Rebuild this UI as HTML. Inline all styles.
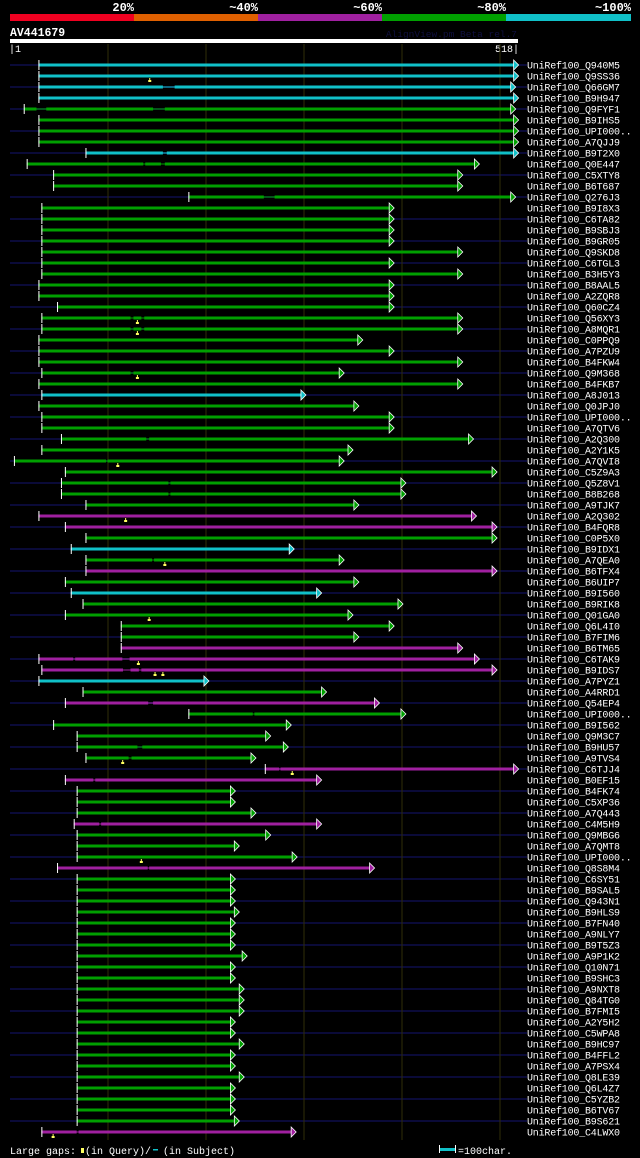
<!DOCTYPE html>
<html><head><meta charset="utf-8">
<style>
html,body{margin:0;padding:0;background:#000;}
svg{display:block;}
text{font-family:"Liberation Mono","DejaVu Sans Mono",monospace;}
</style></head>
<body>
<svg id="chart" width="640" height="1158" viewBox="0 0 640 1158" xmlns="http://www.w3.org/2000/svg">
  <rect x="0" y="0" width="640" height="1158" fill="#000"/>
  <g>
    <rect x="10" y="14" width="124" height="7" fill="#f00020"/>
    <rect x="134" y="14" width="124" height="7" fill="#e06000"/>
    <rect x="258" y="14" width="124" height="7" fill="#a020a0"/>
    <rect x="382" y="14" width="124" height="7" fill="#00a000"/>
    <rect x="506" y="14" width="125" height="7" fill="#10c0c8"/>
    <g font-size="12" font-weight="bold" fill="#fff" text-anchor="end">
      <text x="134" y="11">20%</text>
      <text x="258" y="11">~40%</text>
      <text x="382" y="11">~60%</text>
      <text x="506" y="11">~80%</text>
      <text x="631" y="11">~100%</text>
    </g>
  </g>
  <text x="10" y="36" font-size="11.5" font-weight="bold" fill="#fff">AV441679</text>
  <text x="517" y="37" font-size="9.5" fill="#101040" text-anchor="end">AlignView.pm Beta rel.7</text>
  <rect x="10" y="39" width="508" height="4" fill="#fff"/>
  <text x="9" y="52" font-size="10" fill="#fff">|1</text>
  <text x="519" y="52" font-size="10" fill="#fff" text-anchor="end">518|</text>
  <g id="grid"></g>
  <g id="rows"></g>
  <g>
    <text x="10" y="1154" font-size="10" fill="#fff">Large gaps:</text>
    <rect x="81" y="1148" width="3" height="5" fill="#ffff60"/>
    <text x="85" y="1154" font-size="10" fill="#fff">(in Query)/</text>
    <rect x="153" y="1149" width="5" height="1.5" fill="#10c0c8"/>
    <text x="163" y="1154" font-size="10" fill="#fff">(in Subject)</text>
    <rect x="439" y="1145" width="1" height="8" fill="#fff"/>
    <rect x="440" y="1148" width="15" height="3" fill="#10c0c8"/>
    <rect x="455" y="1145" width="1" height="8" fill="#fff"/>
    <text x="458" y="1154" font-size="10" fill="#fff">=100char.</text>
  </g>
</svg>
<script>
const names = ["UniRef100_Q940M5","UniRef100_Q9SS36","UniRef100_Q66GM7","UniRef100_B9H947","UniRef100_Q9FYF1","UniRef100_B9IHS5","UniRef100_UPI000..","UniRef100_A7QJJ9","UniRef100_B9T2X0","UniRef100_Q0E447",
"UniRef100_C5XTY8","UniRef100_B6T687","UniRef100_Q276J3","UniRef100_B9I8X3","UniRef100_C6TA82","UniRef100_B9SBJ3","UniRef100_B9GR05","UniRef100_Q9SKD8","UniRef100_C6TGL3","UniRef100_B3H5Y3",
"UniRef100_B8AAL5","UniRef100_A2ZQR8","UniRef100_Q60CZ4","UniRef100_Q56XY3","UniRef100_A8MQR1","UniRef100_C0PPQ9","UniRef100_A7PZU9","UniRef100_B4FKW4","UniRef100_Q9M368","UniRef100_B4FKB7",
"UniRef100_A8J013","UniRef100_Q0JPJ0","UniRef100_UPI000..","UniRef100_A7QTV6","UniRef100_A2Q300","UniRef100_A2Y1K5","UniRef100_A7QVI8","UniRef100_C5Z9A3","UniRef100_Q5Z8V1","UniRef100_B8B268",
"UniRef100_A9TJK7","UniRef100_A2Q302","UniRef100_B4FQR8","UniRef100_C0P5X0","UniRef100_B9IDX1","UniRef100_A7QEA0","UniRef100_B6TFX4","UniRef100_B6UIP7","UniRef100_B9I560","UniRef100_B9RIK8",
"UniRef100_Q01GA0","UniRef100_Q6L4I0","UniRef100_B7FIM6","UniRef100_B6TM65","UniRef100_C6TAK9","UniRef100_B9IDS7","UniRef100_A7PYZ1","UniRef100_A4RRD1","UniRef100_Q54EP4","UniRef100_UPI000..",
"UniRef100_B9I562","UniRef100_Q9M3C7","UniRef100_B9HU57","UniRef100_A9TVS4","UniRef100_C6TJJ4","UniRef100_B0EF15","UniRef100_B4FK74","UniRef100_C5XP36","UniRef100_A7Q443","UniRef100_C4M5H9",
"UniRef100_Q9MBG6","UniRef100_A7QMT8","UniRef100_UPI000..","UniRef100_Q8S8M4","UniRef100_C6SY51","UniRef100_B9SAL5","UniRef100_Q943N1","UniRef100_B9HLS9","UniRef100_B7FN40","UniRef100_A9NLY7",
"UniRef100_B9T5Z3","UniRef100_A9P1K2","UniRef100_Q10N71","UniRef100_B9SHC3","UniRef100_A9NXT8","UniRef100_Q84TG0","UniRef100_B7FMI5","UniRef100_A2Y5H2","UniRef100_C5WPA8","UniRef100_B9HC97",
"UniRef100_B4FFL2","UniRef100_A7PSX4","UniRef100_Q8LE39","UniRef100_Q6L4Z7","UniRef100_C5YZB2","UniRef100_B6TV67","UniRef100_B9S621","UniRef100_C4LWX0"];
const starts = [29,29,29,29,14,29,29,29,77,17, 44,44,182,32,32,32,32,32,32,32, 29,29,48,32,32,29,29,29,32,29,
32,29,32,32,52,32,4,56,52,52, 77,29,56,77,62,77,77,56,62,74, 56,113,113,113,29,32,29,74,56,182,
44,68,68,77,260,56,68,68,68,65, 68,68,68,48,68,68,68,68,68,68, 68,68,68,68,68,68,68,68,68,68, 68,68,68,68,68,68,68,32];
const ends = [519,519,516,519,516,519,519,519,519,479, 462,462,516,392,392,392,392,462,392,462, 392,392,392,462,462,360,392,462,341,462,
302,356,392,392,473,350,341,497,404,404, 356,476,497,497,290,341,497,356,318,401, 350,392,356,462,479,497,203,323,377,404,
287,266,284,251,519,318,230,230,251,318, 266,234,293,372,230,230,230,234,230,230, 230,242,230,230,239,239,239,230,230,239, 230,230,239,230,230,230,234,292];
const colors = ["c","c","c","c","g","g","g","g","c","g", "g","g","g","g","g","g","g","g","g","g", "g","g","g","g","g","g","g","g","g","g",
"c","g","g","g","g","g","g","g","g","g", "g","p","p","g","c","g","p","g","c","g", "g","g","g","p","p","p","c","g","p","g",
"g","g","g","g","p","p","g","g","g","p", "g","g","g","p","g","g","g","g","g","g", "g","g","g","g","g","g","g","g","g","g", "g","g","g","g","g","g","g","p"];
const gapRows = [2,4,4,8,9,9,12,23,23,24,24,28,34,36,38,39,45,54,54,55,55,58,59,62,63,64,65,69,73,97];
const gapFrom = [156,27,146,156,136,154,259,123,134,123,134,123,139,98,161.6,161.6,145,64.5,114.6,115.3,131.5,141,247.7,130,121,274.7,85,91,140.5,68];
const gapTo   = [168,37,158,160,138,158,270,126,137,126,137,126,142,99.5,163.7,163.7,147,66.5,122,123,134,146,249.4,135,124,276,87,93,142,70];
const markRows = [1,23,24,28,36,41,45,50,54,55,55,63,64,72,97];
const markPos  = [142.6,130,130,130,110,118,158,142,131,148,156,115,288,134,44];
const gridTicks = [100,200,300,400,500];

const palette = {c:"#10c0c8", g:"#00a000", p:"#a020a0"};
const NS = "http://www.w3.org/2000/svg";
function xs(pos){ return 10 + pos*0.98; }
function ys(i){ return 65 + i*11; }
function mk(tag, attrs, parent){ const e=document.createElementNS(NS,tag); for(const k in attrs) e.setAttribute(k,attrs[k]); parent.appendChild(e); return e; }

const grid = document.getElementById('grid');
const rowsG = document.getElementById('rows');

// background navy stripes (even rows)
names.forEach((n,i)=>{
  if(i%2===0){
    const s = mk('rect',{x:10,y:ys(i)-1,width:517,height:2,fill:'#0a0a38'},grid);
    
    
  }
});
gridTicks.forEach(t=>{
  const l = mk('rect',{x:xs(t)-0.5,y:44,width:1,height:1096,fill:'#302e08'},grid);
  
  
});

names.forEach((n,i)=>{
  const cy = ys(i), x0 = xs(starts[i]), x1 = xs(ends[i]), col = palette[colors[i]];
  const g = mk('g',{},rowsG);
  
  
  // gaps for this row
  const segs=[]; let cur=x0;
  gapRows.forEach((r,k)=>{ if(r===i){ segs.push([cur,xs(gapFrom[k])]); cur=xs(gapTo[k]); }});
  segs.push([cur,x1-5]);
  const thin = mk('rect',{x:x0,y:cy-0.5,width:Math.max(0,x1-5-x0),height:1,fill:col},g);
  
  
  segs.forEach(s=>{
    const b = mk('rect',{x:s[0],y:cy-1.5,width:Math.max(0,s[1]-s[0]),height:3,fill:col},g);
    
    
  });
  const tick = mk('rect',{x:x0,y:cy-5,width:1,height:10,fill:'#fff'},g);
  
  
  const ar = mk('polygon',{points:`${x1-5},${cy-5} ${x1},${cy} ${x1-5},${cy+5}`,fill:col,stroke:'#fff','stroke-width':0.8},g);
  
  
  const t = mk('text',{x:527,y:cy+3.5,'font-size':10,fill:'#fff','letter-spacing':'-0.2'},g);
  t.textContent = n;
  
  
});
markRows.forEach((r,k)=>{
  const x = xs(markPos[k]), cy = ys(r);
  const m = mk('path',{d:`M${x-0.5},${cy+2} h1 v2 h1 v2 h-3 v-2 h1 z`,fill:'#ffff60'},rowsG);
  
  
});
</script>
</body></html>
